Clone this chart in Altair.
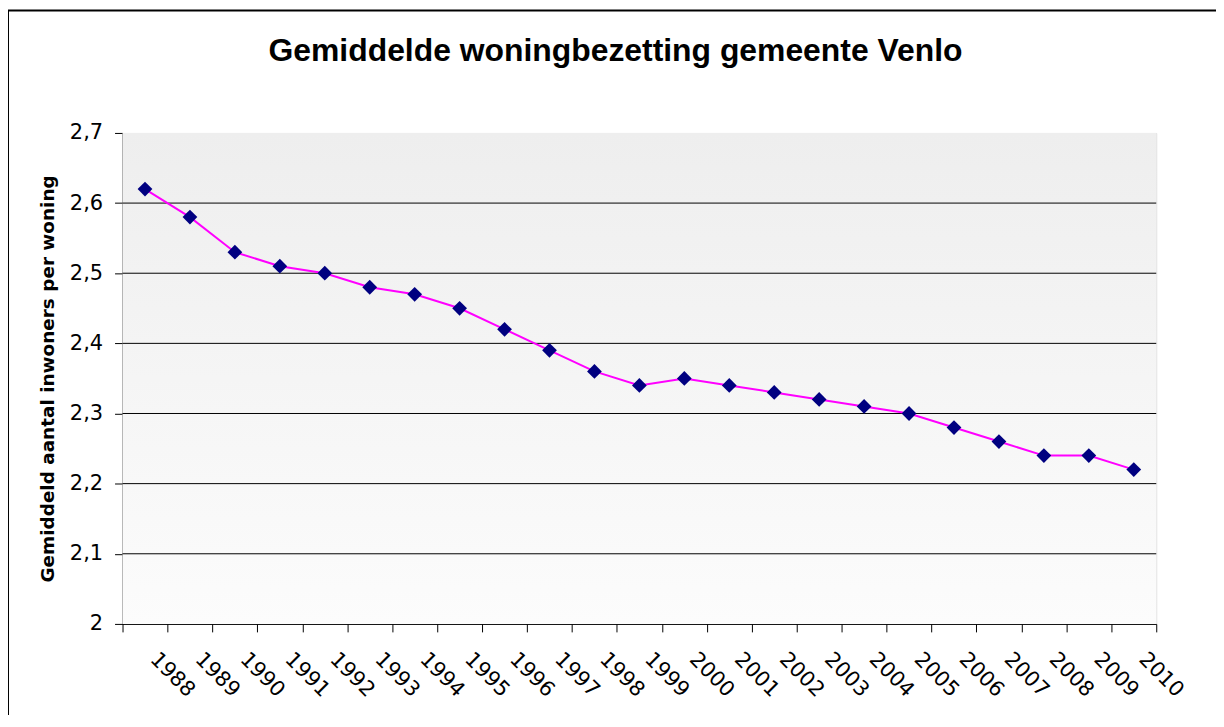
import altair as alt
import pandas as pd

years = ["1988", "1989", "1990", "1991", "1992", "1993", "1994", "1995",
         "1996", "1997", "1998", "1999", "2000", "2001", "2002", "2003",
         "2004", "2005", "2006", "2007", "2008", "2009", "2010"]
values = [2.62, 2.58, 2.53, 2.51, 2.50, 2.48, 2.47, 2.45, 2.42, 2.39, 2.36, 2.34,
          2.35, 2.34, 2.33, 2.32, 2.31, 2.30, 2.28, 2.26, 2.24, 2.24, 2.22]
y_ticks = [2.0, 2.1, 2.2, 2.3, 2.4, 2.5, 2.6, 2.7]
grid_values = [2.1, 2.2, 2.3, 2.4, 2.5, 2.6]

title_text = "Gemiddelde woningbezetting gemeente Venlo"
y_title = "Gemiddeld aantal inwoners per woning"

W, H = 1038, 493
TITLE_FONT = "Liberation Sans"
AXIS_FONT = "DejaVu Sans"

df = pd.DataFrame({"year": years, "val": values})
grid_df = pd.DataFrame({"val": grid_values})
one = pd.DataFrame({"t": [title_text]})

x_enc = alt.X(
    "year:N",
    sort=years,
    scale=alt.Scale(paddingInner=0, paddingOuter=0),
    axis=alt.Axis(
        title=None, labelAngle=45, labelAlign="left", labelBaseline="middle",
        labelFontSize=21, labelFont=AXIS_FONT, labelColor="black",
        tickBand="extent", tickSize=8, tickColor="black", domainColor="black",
        labelPadding=24, labelOffset=8,
    ),
)
y_scale = alt.Scale(domain=[2, 2.7], nice=False, zero=False)
y_enc = alt.Y(
    "val:Q",
    scale=y_scale,
    axis=alt.Axis(
        values=y_ticks,
        labelExpr="replace(format(datum.value, '.2~g'), '.', ',')",
        grid=False, tickSize=8, tickColor="black", domainColor="black",
        labelFontSize=21, labelFont=AXIS_FONT, labelColor="black", labelPadding=12,
        title=y_title, titleFontSize=18.5, titleFont=AXIS_FONT, titleFontWeight="bold",
        titleColor="black", titleX=-75, titleY=H / 2, titleAngle=270,
        titleAlign="center", titleBaseline="middle",
    ),
)

bg = alt.Chart(one).mark_rect(
    color=alt.LinearGradient(
        gradient="linear",
        stops=[alt.GradientStop(offset=0, color="#eeeeee"),
               alt.GradientStop(offset=1, color="#fcfcfc")],
        x1=0, x2=0, y1=0, y2=1,
    )
).encode(x=alt.value(0), x2=alt.value(W), y=alt.value(0), y2=alt.value(H))

grid = alt.Chart(grid_df).mark_rule(color="black", strokeWidth=1).encode(
    y=alt.Y("val:Q", scale=y_scale)
)

border = alt.Chart(one).mark_rect(
    filled=False, stroke="black", strokeWidth=2
).encode(x=alt.value(-115), x2=alt.value(W + 200), y=alt.value(-123), y2=alt.value(H + 200))

title = alt.Chart(one).mark_text(
    font=TITLE_FONT, fontSize=32, fontWeight="bold", color="black",
    align="center", baseline="alphabetic",
).encode(text="t:N", x=alt.value(W / 2 - 24), y=alt.value(-72))

line = alt.Chart(df).mark_line(color="#ff00ff", strokeWidth=2).encode(x=x_enc, y=y_enc)
pts = alt.Chart(df).mark_point(
    shape="diamond", filled=True, color="#000080", size=220, opacity=1
).encode(x=x_enc, y=y_enc)

chart = alt.layer(bg, grid, border, title, line, pts).properties(
    width=W, height=H,
    padding={"left": 115, "top": 124, "right": 60, "bottom": 90},
    autosize=alt.AutoSizeParams(type="none"),
).configure_view(stroke="#808080", strokeWidth=2).configure(background="white")

chart.save("out.html", embed_options={"renderer": "svg", "actions": False})
